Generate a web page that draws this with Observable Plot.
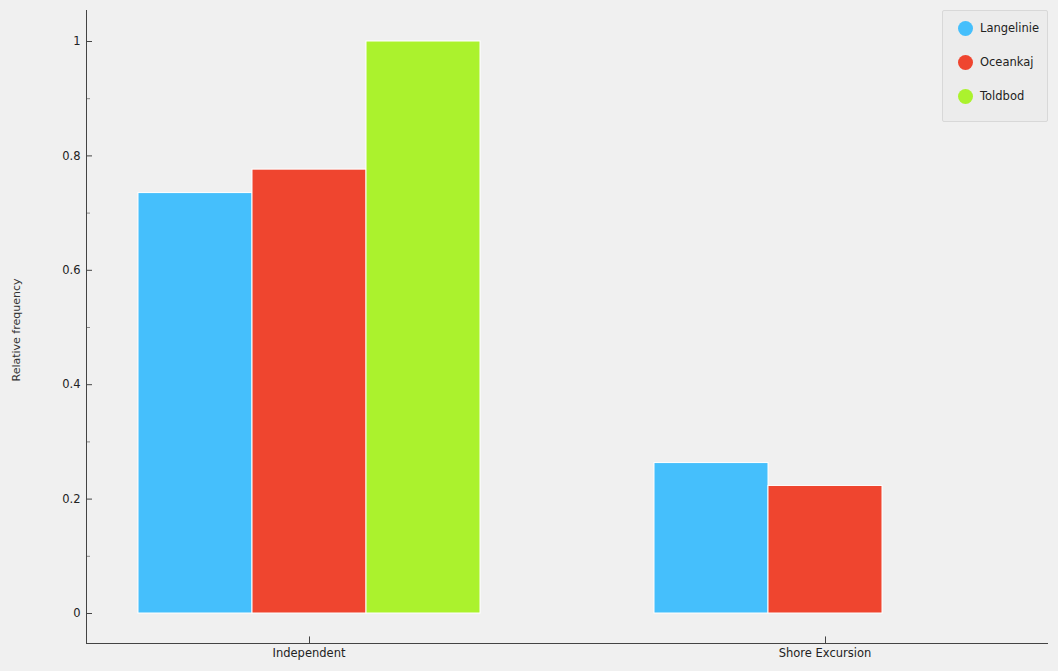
<!DOCTYPE html>
<html><head><meta charset="utf-8">
<script src="https://cdn.jsdelivr.net/npm/d3@7"></script>
<script src="https://cdn.jsdelivr.net/npm/@observablehq/plot@0.6"></script>
<style>
body{margin:0;background:#f0f0f0;font-family:"DejaVu Sans",sans-serif;}
#wrap{position:relative;width:1058px;height:671px;}
#ylab{position:absolute;left:16px;top:330px;transform:translate(-50%,-50%) rotate(-90deg);font-size:11px;color:#333;white-space:nowrap;}
#legend{position:absolute;left:942px;top:10px;width:104px;height:110px;border:1px solid #d8d8d8;background:#ececec;border-radius:2px;font-size:11.5px;color:#222;}
#legend div{display:flex;align-items:center;height:34px;padding-left:15px;}
#legend span{width:15px;height:15px;border-radius:50%;display:inline-block;margin-right:7px;}
.axl{position:absolute;background:#444;}
</style></head><body>
<div id="wrap"><div id="chart"></div>
<div class="axl" style="left:86px;top:10px;width:1px;height:634px"></div>
<div class="axl" style="left:86px;top:643px;width:962px;height:1px"></div>
<div id="ylab">Relative frequency</div><div id="legend"></div></div>
<script>
const groups = ["Independent", "Shore Excursion"];
const stores = ["Langelinie", "Oceankaj", "Toldbod"];
const colors = ["#45bffc", "#ef452f", "#abf22d"];
const langelinie = [0.735, 0.263];
const oceankaj = [0.776, 0.223];
const toldbod = [1.0, 0.0];

const series = [langelinie, oceankaj, toldbod];
const data = [];
groups.forEach((g, i) => stores.forEach((s, j) => data.push({group: g, store: s, value: series[j][i]})));

const plot = Plot.plot({
  width: 1058, height: 671,
  marginLeft: 86, marginRight: 11, marginTop: 10, marginBottom: 28,
  style: {background: "#f0f0f0", fontSize: "11.5px", fontFamily: "DejaVu Sans", color: "#222"},
  fx: {domain: groups, paddingInner: 0.141, paddingOuter: 0, label: null},
  x: {domain: stores, paddingInner: 0, paddingOuter: 0.436, axis: null},
  y: {domain: [0, 1], range: [613, 41], label: null},
  color: {domain: stores, range: colors},
  marks: [
    Plot.axisY({ticks: [0, 0.2, 0.4, 0.6, 0.8, 1], tickSize: -5, tickPadding: 12, tickFormat: d => String(d), stroke: "#444"}),
    Plot.axisY({ticks: [0.1, 0.3, 0.5, 0.7, 0.9], tickSize: -3, tickFormat: () => "", stroke: "#888"}),
    Plot.axisFx({anchor: "bottom", tickSize: 0, tickPadding: 5, label: null}),
    Plot.barY(data, {fx: "group", x: "store", y: "value", fill: "store", stroke: "white", strokeWidth: 1}),
    Plot.ruleX(groups, {fx: d => d, x: () => "Oceankaj", y1: -0.0525, y2: -0.041, stroke: "#444"})
  ]
});
document.querySelector("#chart").append(plot);

const leg = document.querySelector("#legend");
stores.forEach((s, i) => {
  const row = document.createElement("div");
  row.innerHTML = `<span style="background:${colors[i]}"></span>${s}`;
  leg.append(row);
});
</script></body></html>
